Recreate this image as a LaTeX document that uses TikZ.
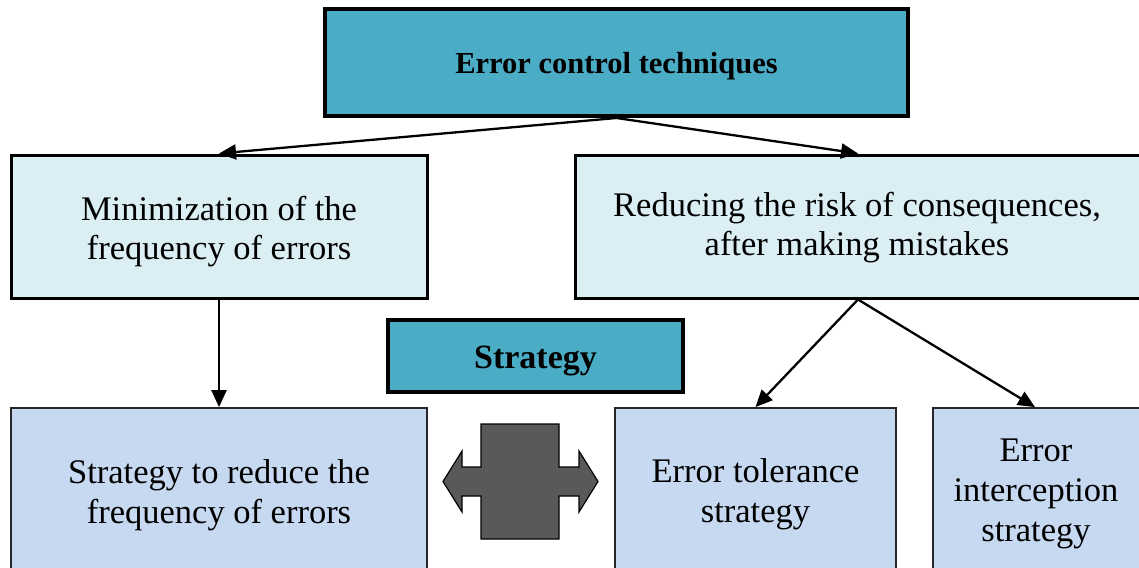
\documentclass[tikz,border=0pt]{standalone}
\usepackage{fontspec}
\setmainfont{Liberation Serif}
\usetikzlibrary{arrows.meta}
\definecolor{teal}{HTML}{4BACC6}
\definecolor{paleblue}{HTML}{DAEEF3}
\definecolor{stratblue}{HTML}{C6D9F1}
\definecolor{darkgray}{HTML}{595959}
\tikzset{
  headbox/.style={draw=black, line width=4pt, fill=teal, inner sep=0pt},
  goalbox/.style={draw=black, line width=3pt, fill=paleblue, inner sep=0pt},
  stratbox/.style={draw=black!85, line width=1.8pt, fill=stratblue, inner sep=0pt},
  headtext/.style={align=center, inner sep=0pt, font=\fontsize{30.5}{36}\selectfont\bfseries},
  bodytext/.style={align=center, inner sep=0pt, font=\fontsize{34.5}{39}\selectfont},
  link/.style={line width=2.3pt, -{Triangle[length=17pt,width=15pt]}},
  swap/.style={draw=black, line width=1.2pt, fill=darkgray}
}
\begin{document}
\begin{tikzpicture}[x=1pt, y=-1pt]
  \useasboundingbox (0,0) rectangle (1139,567);

  % top level
  \node[headbox, minimum width=583pt, minimum height=107pt] (top) at (616.5,62.5) {};
  \node[headtext] (toptxt) at ([yshift=-4pt]top.center) {Error control techniques};

  % two approaches
  \node[goalbox, minimum width=416pt, minimum height=143pt] (min) at (219,226.5) {};
  \node[bodytext] (mintxt) at ([yshift=-5pt]min.center)
    {Minimization of the\\frequency of errors};
  \node[goalbox, minimum width=570pt, minimum height=143pt] (red) at (860,226.5) {};
  \node[bodytext] (redtxt) at ([xshift=-3pt,yshift=-1pt]red.center)
    {Reducing the risk of consequences,\\after making mistakes};

  % label box
  \node[headbox, minimum width=295pt, minimum height=72pt] (lbl) at (535.5,356) {};
  \node[headtext, font=\fontsize{34}{40}\selectfont\bfseries] (lbltxt)
    at ([yshift=-5pt]lbl.center) {Strategy};

  % strategies
  \node[stratbox, minimum width=416pt, minimum height=168pt] (s1) at (219,492) {};
  \node[bodytext, font=\fontsize{34.5}{40}\selectfont] (s1txt)
    at ([yshift=-3pt]s1.center) {Strategy to reduce the\\frequency of errors};
  \node[stratbox, minimum width=281pt, minimum height=164pt] (s2) at (755.5,490) {};
  \node[bodytext, font=\fontsize{34.5}{40}\selectfont] (s2txt)
    at ([yshift=-4pt]s2.center) {Error tolerance\\strategy};
  \node[stratbox, minimum width=212pt, minimum height=164pt] (s3) at (1039,490) {};
  \node[bodytext, font=\fontsize{34.5}{40}\selectfont] (s3txt)
    at ([xshift=-3pt,yshift=-4pt]s3.center) {Error\\interception\\strategy};

  % connectors
  \draw[link] (top.south) -- (min.north);
  \draw[link] (top.south) -- ([xshift=-2pt]red.north);
  \draw[link] (min.south) -- (s1.north);
  \draw[link] ([xshift=-2pt]red.south) -- (s2.north);
  \draw[link] ([xshift=-2pt]red.south) -- ([xshift=-4pt]s3.north);

  % two-headed block arrow between the strategies
  \draw[swap] (481,424) -- (559,424) -- (559,467) -- (579,467) -- (579,451)
    -- (598,481.5) -- (579,512) -- (579,496) -- (559,496) -- (559,539)
    -- (481,539) -- (481,496) -- (462,496) -- (462,512) -- (443,481.5)
    -- (462,451) -- (462,467) -- (481,467) -- cycle;
\end{tikzpicture}
\end{document}
